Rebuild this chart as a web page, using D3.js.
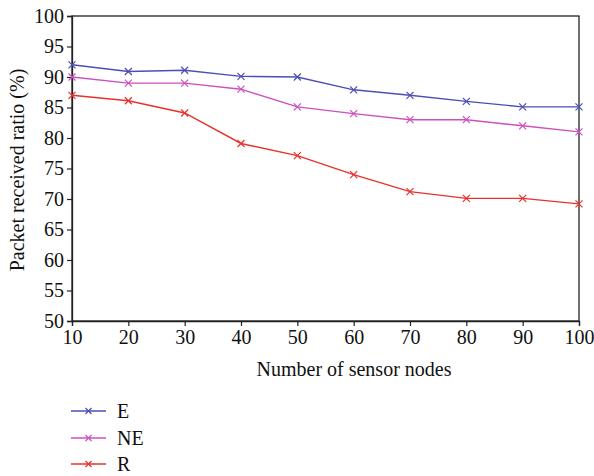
<!DOCTYPE html>
<html><head><meta charset="utf-8">
<script src="https://cdn.jsdelivr.net/npm/d3@7"></script>
<style>body{margin:0;background:#fff}svg{display:block}text{font-family:"Liberation Serif","DejaVu Serif",serif;fill:#111}</style>
</head><body>
<svg id="c" width="594" height="476"></svg>
<script>
const categories = [10,20,30,40,50,60,70,80,90,100];
const seriesE  = [92, 90.9, 91.1, 90.1, 90, 87.9, 87, 86, 85.1, 85.1];
const seriesNE = [90, 89, 89, 88, 85.1, 84, 83, 83, 82, 81];
const seriesR  = [87, 86.1, 84.1, 79.1, 77.1, 74, 71.2, 70.1, 70.1, 69.2];
const yTicks = [50,55,60,65,70,75,80,85,90,95,100];
const seriesNames = ["E","NE","R"];
const seriesColors = ["#4b4fb3","#cc50c0","#e8322b"];
const seriesData = [seriesE, seriesNE, seriesR];

const svg = d3.select("#c");
const L=72, R=579, T=16, B=321;
const x = d3.scaleLinear().domain([10,100]).range([L,R]);
const y = d3.scaleLinear().domain([50,100]).range([B,T]);
const FONT = '"Liberation Serif","DejaVu Serif",serif';

svg.append("rect").attr("x",L).attr("y",T).attr("width",R-L).attr("height",B-T)
  .attr("fill","none").attr("stroke","#222").attr("stroke-width",1.3);

const xAxis = svg.append("g").attr("transform",`translate(0,${B})`)
  .call(d3.axisBottom(x).tickValues(categories).tickSize(5).tickPadding(4).tickFormat(d3.format("d")));
const yAxis = svg.append("g").attr("transform",`translate(${L},0)`)
  .call(d3.axisLeft(y).tickValues(yTicks).tickSize(5).tickPadding(3).tickFormat(d3.format("d")));
[xAxis,yAxis].forEach(g=>{
  g.select(".domain").attr("stroke","#222").attr("stroke-width",1.3);
  g.selectAll(".tick line").attr("stroke","#222").attr("stroke-width",1.2);
  g.selectAll("text").style("font-family",FONT).style("font-size","20px").attr("fill","#111");
});

svg.append("text").attr("x",354).attr("y",376).attr("text-anchor","middle")
  .style("font-size","20px").text("Number of sensor nodes");
svg.append("text").attr("transform",`translate(24,170) rotate(-90)`).attr("text-anchor","middle")
  .style("font-size","20px").text("Packet received ratio (%)");

const line = d3.line().x((d,i)=>x(categories[i])).y(d=>y(d));
function cross(g, cx, cy, col, s){
  g.append("path").attr("d",`M${cx-s},${cy-s}L${cx+s},${cy+s}M${cx-s},${cy+s}L${cx+s},${cy-s}`)
   .attr("stroke",col).attr("stroke-width",1.2).attr("fill","none");
}
seriesData.forEach((data,k)=>{
  const g = svg.append("g");
  g.append("path").datum(data).attr("d",line).attr("fill","none")
    .attr("stroke",seriesColors[k]).attr("stroke-width",1.4);
  data.forEach((v,i)=>cross(g, x(categories[i]), y(v), seriesColors[k], 3.5));
});

const ly = [411,438,464];
seriesNames.forEach((n,k)=>{
  const g = svg.append("g");
  g.append("line").attr("x1",71).attr("x2",106).attr("y1",ly[k]).attr("y2",ly[k])
    .attr("stroke",seriesColors[k]).attr("stroke-width",1.4);
  cross(g, 88.5, ly[k], seriesColors[k], 3);
  g.append("text").attr("x",117).attr("y",ly[k]+7).style("font-size","20px").text(n);
});
</script>
</body></html>
